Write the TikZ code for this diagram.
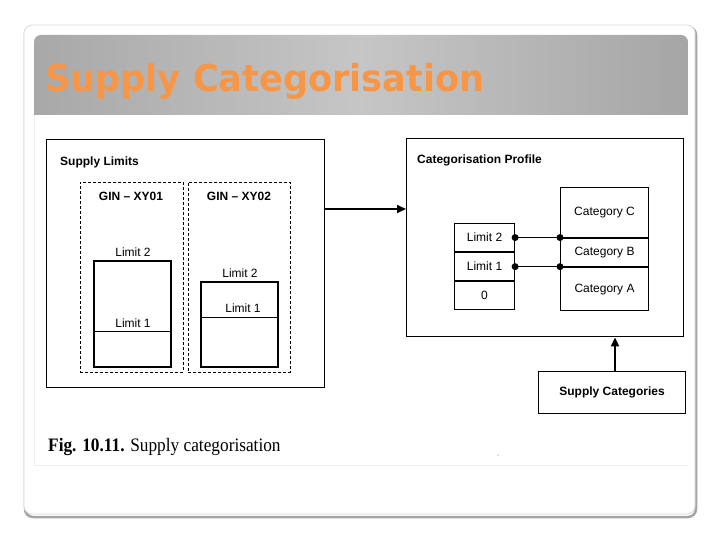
\documentclass[tikz,border=0pt]{standalone}
\usepackage{fontspec}
\setmainfont{Liberation Serif}
\setsansfont{Liberation Sans}
\newfontfamily\titlefont{DejaVu Sans}
\usetikzlibrary{arrows.meta}
\definecolor{titleorange}{RGB}{247,150,70}
\begin{document}
\begin{tikzpicture}[x=1pt,y=-1pt,
  box/.style={draw, line width=1.1pt, inner sep=0pt},
  thickbox/.style={draw, line width=1.8pt, inner sep=0pt},
  dashbox/.style={draw, line width=0.9pt, dash pattern=on 3pt off 2pt, inner sep=0pt},
  cell/.style={draw, line width=1.1pt, inner sep=0pt, minimum width=60pt, minimum height=28pt, font=\sffamily\fontsize{12}{13}\selectfont},
  catcell/.style={draw, line width=1.1pt, inner sep=0pt, minimum width=88pt, font=\sffamily\fontsize{12}{13}\selectfont},
  hdr/.style={font=\sffamily\bfseries\fontsize{12}{13}\selectfont, inner sep=0pt},
  lbl/.style={font=\sffamily\fontsize{12}{13}\selectfont, inner sep=0pt},
  dot/.style={circle, fill=black, draw=none, inner sep=0pt, minimum size=7pt},
  conn/.style={draw, line width=1.6pt, -{Triangle[length=9pt,width=8pt]}}
]
\useasboundingbox (0,0) rectangle (720,540);
\fill[white] (0,0) rectangle (720,540);
% slide frame
\draw[gray!70, line width=2.5pt, rounded corners=8pt] (25,27) rectangle (696,517);
\draw[gray!30, fill=white, rounded corners=8pt, line width=0.8pt] (24,25) rectangle (695,514);
% title band
\begin{scope}
\clip[rounded corners=7pt] (34,35) rectangle (688,140);
\shade[left color=gray!68, right color=gray!70, middle color=gray!45] (34,35) rectangle (688,115);
\end{scope}
\node[anchor=base west, text=titleorange, font=\titlefont\bfseries\fontsize{37}{40}\selectfont, inner sep=0pt] (title) at (45,92) {\scalebox{0.95}[1]{Supply Categorisation}};
% faint picture border
\draw[gray!12, line width=0.8pt] (34,115) -- (34,465) -- (688,465);

% Supply limits
\node[box, anchor=north west, minimum width=278pt, minimum height=248pt] (sl) at (46,139) {};
\node[hdr, anchor=base west] (slh) at (60,166) {Supply Limits};
\node[dashbox, anchor=north west, minimum width=103pt, minimum height=190pt] (g1) at (80,182) {};
\node[dashbox, anchor=north west, minimum width=102pt, minimum height=190pt] (g2) at (188,182) {};
\node[hdr, anchor=base] (g1h) at (131,201) {GIN -- XY01};
\node[hdr, anchor=base] (g2h) at (239,201) {GIN -- XY02};
% box 1
\node[thickbox, anchor=north west, minimum width=77pt, minimum height=106pt] (b1) at (93,260) {};
\draw[line width=0.9pt] (93,331) -- (170,331);
\node[lbl, anchor=base] (b1l2) at (133,256) {Limit 2};
\node[lbl, anchor=base] (b1l1) at (133,327) {Limit 1};
% box 2
\node[thickbox, anchor=north west, minimum width=77pt, minimum height=85pt] (b2) at (200,281) {};
\draw[line width=0.9pt] (200,317) -- (277,317);
\node[lbl, anchor=base] (b2l2) at (240,277) {Limit 2};
\node[lbl, anchor=base] (b2l1) at (243,312) {Limit 1};

% Categorisation profile
\node[box, line width=1.4pt, anchor=north west, minimum width=277pt, minimum height=198pt] (cp) at (406,138) {};
\node[hdr, anchor=base west] (cph) at (417,164) {Categorisation Profile};
\draw[conn] (sl.east |- 0,209) -- (cp.west |- 0,209);

% limit stack
\node[cell, anchor=north west] (l2) at (454,223) {Limit 2};
\node[cell, anchor=north] (l1) at (l2.south) {Limit 1};
\node[cell, anchor=north] (l0) at (l1.south) {0};
% category stack
\node[catcell, anchor=north west, minimum height=50pt] (cc) at (560,187) {Category C};
\node[catcell, anchor=north, minimum height=28pt] (cb) at (cc.south) {Category B};
\node[catcell, anchor=north, minimum height=43pt] (ca) at (cb.south) {Category A};

\node[dot] (d1) at (l2.east) {};
\node[dot] (d2) at (l2.east -| cc.west) {};
\node[dot] (d3) at (l1.east) {};
\node[dot] (d4) at (l1.east -| cc.west) {};
\draw[line width=1.8pt] (d1.center) -- (d2.center);
\draw[line width=1pt] (d3.center) -- (d4.center);

% Supply categories
\node[box, anchor=north west, minimum width=147pt, minimum height=42pt, hdr, inner sep=0pt] (sc) at (538,371) {Supply Categories};
\draw[conn] (sc.north -| 615,0) -- (cp.south -| 615,0);

% caption
\node[anchor=base west, inner sep=0pt, font=\fontsize{19}{20}\selectfont] (cap) at (48,451) {\scalebox{0.91}[1]{\textbf{Fig. 10.11.} Supply categorisation}};
\fill[gray] (498,455) circle (0.6pt);
\end{tikzpicture}
\end{document}
